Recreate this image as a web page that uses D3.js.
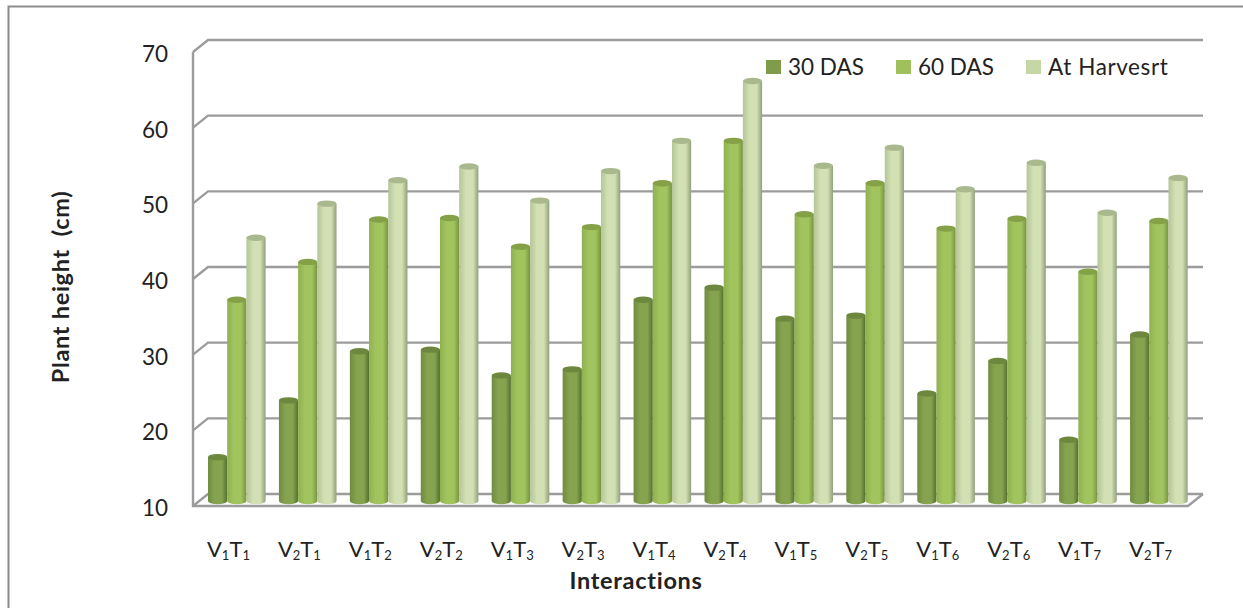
<!DOCTYPE html>
<html><head><meta charset="utf-8">
<script src="https://cdn.jsdelivr.net/npm/d3@7/dist/d3.min.js"></script>
<style>html,body{margin:0;background:#fff}svg{display:block}text{font-family:Lato,"Open Sans",sans-serif;fill:#222}</style>
</head><body><svg id="chart" width="1243" height="608"></svg>
<script>
// Plant height by variety x treatment interaction
const varieties = ["1","2","1","2","1","2","1","2","1","2","1","2","1","2"];
const treatments = ["1","1","2","2","3","3","4","4","5","5","6","6","7","7"];
const seriesNames = ["30 DAS","60 DAS","At Harvesrt"];
const das30 = [15.8,23.3,29.8,30,26.6,27.4,36.6,38.2,34.1,34.5,24.2,28.5,18.1,32];
const das60 = [36.6,41.6,47.2,47.4,43.6,46.2,52,57.6,47.9,52,46,47.3,40.3,47];
const harvest = [44.8,49.3,52.4,54.2,49.7,53.6,57.6,65.5,54.3,56.7,51.2,54.7,48.1,52.7];
const yTicks = [10,20,30,40,50,60,70];
const seriesValues = [das30,das60,harvest];

const svg = d3.select("#chart");
const depth = {x:15, y:12};
const floorLeft = 193, floorRight = 1188;
const x = d3.scaleBand().domain(d3.range(14)).range([floorLeft,floorRight-2]);
const y = d3.scaleLinear().domain([10,70]).range([506,52]);
const barW = 19.2;
const bx = d3.scaleBand().domain([0,1,2]).range([0,barW*3]);
const axisGrey = "#9c9c9c";

// Frame runs along the top and left, open at the right and bottom
svg.append("path").attr("d",d3.line()([[8.5,608],[8.5,6.5],[1243,6.5]]))
  .attr("fill","none").attr("stroke","#8c8c8c").attr("stroke-width",2);

// Cylinder shading per series
const palette = [
  {edgeL:"#6f8b40",mid:"#86a44f",edgeR:"#566f2f",top:"#6d883e"},
  {edgeL:"#8fb050",mid:"#a2c45e",edgeR:"#77933f",top:"#84a148"},
  {edgeL:"#b4c597",mid:"#d2e0b3",edgeR:"#929f7c",top:"#a9b98d"}
];
const defs = svg.append("defs");
palette.forEach((c,i)=>{
  const g = defs.append("linearGradient").attr("id","cyl"+i);
  g.append("stop").attr("offset","0%").attr("stop-color",c.edgeL);
  g.append("stop").attr("offset","35%").attr("stop-color",c.mid);
  g.append("stop").attr("offset","72%").attr("stop-color",c.mid);
  g.append("stop").attr("offset","100%").attr("stop-color",c.edgeR);
});

// Back wall gridlines, side wall slants, left axis and floor
const wall = svg.append("g").attr("fill","none").attr("stroke",axisGrey).attr("stroke-width",2.4);
yTicks.forEach(t=>{
  wall.append("path").attr("d",d3.line()([
    [floorLeft,y(t)],[floorLeft+depth.x,y(t)-depth.y],[floorRight+depth.x,y(t)-depth.y]
  ]));
});
wall.append("path").attr("d",d3.line()([[floorLeft,y(70)],[floorLeft,y(10)],[floorRight,y(10)],[floorRight+depth.x,y(10)-depth.y]]));

// Bars sit midway through the wall depth
const barDx = 15, barDy = 5;
const barLayer = svg.append("g");
d3.range(14).forEach(g=>{
  seriesValues.forEach((vals,s)=>{
    const left = x(g)+barDx+bx(s), w = bx.bandwidth();
    const top = y(vals[g])-barDy, base = y(10)-barDy, ry = 3.2;
    const rx = w/2;
    barLayer.append("path")
      .attr("d",`M${left},${top}L${left},${base}A${rx},${ry} 0 0 0 ${left+w},${base}L${left+w},${top}Z`)
      .attr("fill",`url(#cyl${s})`);
    barLayer.append("ellipse").attr("cx",left+rx).attr("cy",top).attr("rx",rx).attr("ry",ry)
      .attr("fill",palette[s].top);
  });
});

// Value axis labels
const yLab = svg.append("g");
yTicks.forEach(t=>{
  yLab.append("text").attr("x",168).attr("y",y(t)+2).attr("dy","0.36em")
    .attr("text-anchor","end").attr("font-size",22.5).text(t);
});

// Category labels with subscripts
const catLab = svg.append("g");
d3.range(14).forEach(i=>{
  const t = catLab.append("text").attr("x",x(i)+x.bandwidth()/2).attr("y",557)
    .attr("text-anchor","middle").attr("font-size",22).attr("fill","#333");
  t.append("tspan").text("V");
  t.append("tspan").attr("dy",3).attr("font-size",13).text(varieties[i]);
  t.append("tspan").attr("dy",-3).text("T");
  t.append("tspan").attr("dy",3).attr("font-size",13).text(treatments[i]);
});

// Axis titles
svg.append("text").attr("x",636).attr("y",589).attr("text-anchor","middle")
  .attr("font-size",23.5).attr("letter-spacing",0.7).attr("font-weight",700).attr("fill","#111").text("Interactions");
svg.append("text").attr("transform","translate(69,287) rotate(-90)").attr("text-anchor","middle")
  .attr("font-size",23.5).attr("letter-spacing",0.7).attr("font-weight",700).attr("fill","#111").attr("xml:space","preserve").text("Plant height  (cm)");

// Legend
const legendX = [766,896,1026], legendColors = ["#7f9c4b","#9fc05a","#c4d7a5"];
const legendSpacing = [0,0,0.6];
seriesNames.forEach((n,i)=>{
  svg.append("rect").attr("x",legendX[i]).attr("y",60).attr("width",15).attr("height",14).attr("fill",legendColors[i]);
  svg.append("text").attr("x",legendX[i]+22).attr("y",67).attr("dy","0.36em").attr("font-size",22.5)
    .attr("letter-spacing",legendSpacing[i]).attr("fill","#222").text(n);
});
</script></body></html>
